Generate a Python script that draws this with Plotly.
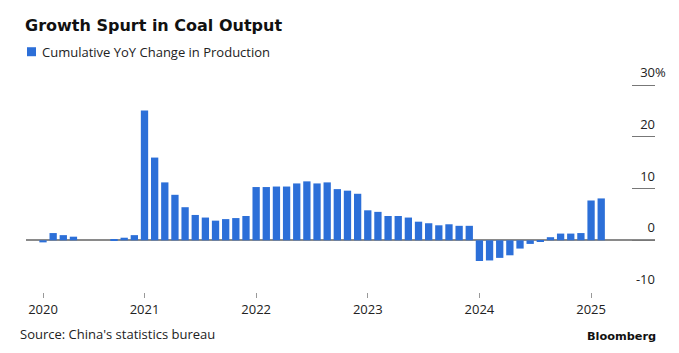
import plotly.graph_objects as go

# Categories: China reports Jan-Feb combined, so each year starts at Feb (2020 starts at Mar)
months_2020 = ["2020-03", "2020-04", "2020-05", "2020-06", "2020-07",
               "2020-08", "2020-09", "2020-10", "2020-11", "2020-12"]
months_2021 = ["2021-%02d" % m for m in range(2, 13)]
months_2022 = ["2022-%02d" % m for m in range(2, 13)]
months_2023 = ["2023-%02d" % m for m in range(2, 13)]
months_2024 = ["2024-%02d" % m for m in range(2, 13)]
months_2025 = ["2025-02", "2025-03"]
categories = months_2020 + months_2021 + months_2022 + months_2023 + months_2024 + months_2025

vals_2020 = [-0.4, 1.4, 1.0, 0.7, 0.0, 0.0, 0.0, 0.25, 0.5, 1.0]
vals_2021 = [25.1, 16.0, 11.2, 8.8, 6.4, 4.9, 4.4, 3.8, 4.1, 4.3, 4.7]
vals_2022 = [10.3, 10.3, 10.4, 10.4, 11.0, 11.4, 11.0, 11.2, 9.9, 9.6, 9.0]
vals_2023 = [5.8, 5.5, 4.7, 4.7, 4.4, 3.6, 3.3, 2.9, 3.1, 2.8, 2.8]
vals_2024 = [-4.0, -3.9, -3.4, -2.9, -1.6, -0.7, -0.3, 0.6, 1.3, 1.3, 1.4]
vals_2025 = [7.7, 8.1]
values = vals_2020 + vals_2021 + vals_2022 + vals_2023 + vals_2024 + vals_2025

year_tick_vals = ["2020-03", "2021-02", "2022-02", "2023-02", "2024-02", "2025-02"]
year_tick_text = ["2020", "2021", "2022", "2023", "2024", "2025"]

y_tick_vals = [-10, 0, 10, 20, 30]
y_tick_text = ["-10", "0", "10", "20", "30"]

series_name = "Cumulative YoY Change in Production"
BLUE = "#2c6fd8"
FONT = "Open Sans"

W, H = 679, 353
Y_MIN, Y_MAX = -10, 37
PX_PER_UNIT = 5.175
M_L, M_R, M_B = 26, 24, 61
M_T = H - M_B - (Y_MAX - Y_MIN) * PX_PER_UNIT
PW, PH = W - M_L - M_R, H - M_T - M_B


def px_x(px):
    return (px - M_L) / PW


def px_y(py):
    return (H - M_B - py) / PH


fig = go.Figure()
fig.add_trace(go.Bar(
    x=categories, y=values, marker=dict(color=BLUE, line=dict(width=0)),
    showlegend=False, name=series_name,
))

fig.update_layout(
    width=W, height=H,
    margin=dict(l=M_L, r=M_R, t=M_T, b=M_B),
    paper_bgcolor="white", plot_bgcolor="rgba(0,0,0,0)",
    bargap=0.28,
    font=dict(family=FONT, size=13, color="#222"),
    title=dict(text="Growth Spurt in Coal Output", x=25/W, xanchor="left",
               y=1 - 25/H, yanchor="middle",
               font=dict(family="DejaVu Sans", size=16, weight="bold", color="#111")),
    showlegend=False,
    xaxis=dict(
        type="category", categoryorder="array", categoryarray=categories,
        range=[-1.675, 60.3],
        tickmode="array", tickvals=year_tick_vals, ticktext=year_tick_text,
        ticks="outside", ticklen=5, tickcolor="#999", tickwidth=1,
        showline=False, showgrid=False, zeroline=False,
        tickfont=dict(family=FONT, size=13, color="#222"),
    ),
    yaxis=dict(
        side="right", range=[Y_MIN, Y_MAX],
        tickmode="array", tickvals=y_tick_vals, ticktext=y_tick_text,
        ticks="inside", ticklen=23, tickcolor="#777", tickwidth=1,
        ticklabelposition="inside top", ticklabelshift=-3, ticklabelstandoff=-3,
        showgrid=False, showline=False,
        zeroline=True, zerolinecolor="#8a8a8a", zerolinewidth=1.5,
        tickfont=dict(family=FONT, size=13, color="#222"),
    ),
    shapes=[
        dict(type="rect", xref="paper", yref="paper",
             x0=px_x(27), x1=px_x(36), y0=px_y(56), y1=px_y(47),
             fillcolor=BLUE, line=dict(width=0)),
    ],
    annotations=[
        dict(text=series_name, xref="paper", yref="paper",
             x=px_x(40), y=px_y(52), xanchor="left", yanchor="middle", showarrow=False,
             font=dict(family=FONT, size=13, color="#222")),
        dict(text="%", xref="paper", yref="y", x=1.0, y=30, xanchor="left",
             yanchor="middle", showarrow=False, xshift=-2, yshift=13,
             font=dict(family=FONT, size=13, color="#222")),
        dict(text="Source: China's statistics bureau", xref="paper", yref="paper",
             x=px_x(18), y=px_y(334), xanchor="left", yanchor="middle", showarrow=False,
             font=dict(family=FONT, size=13, color="#222")),
        dict(text="<b>Bloomberg</b>", xref="paper", yref="paper",
             x=px_x(658), y=px_y(337), xanchor="right", yanchor="middle", showarrow=False,
             font=dict(family="DejaVu Sans", size=11.3, color="#111")),
    ],
)

fig.write_html("out.html")
